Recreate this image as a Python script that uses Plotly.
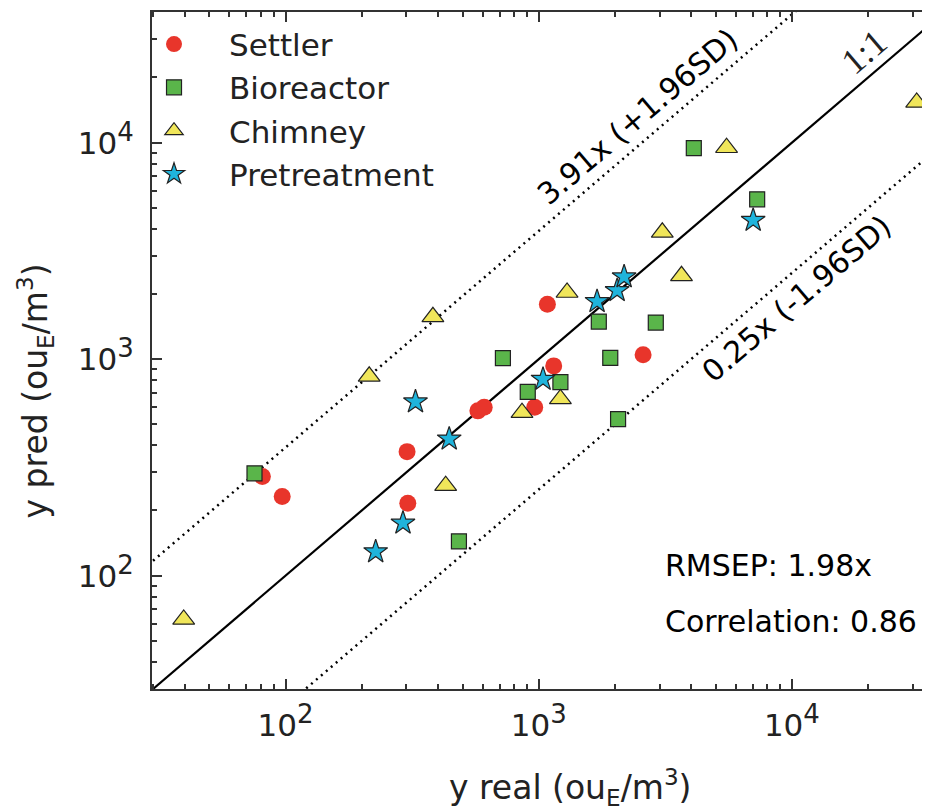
import math
import plotly.graph_objects as go

# ---------------- data ----------------
settler_x = [81, 97, 302, 304, 575, 609, 964, 1146, 1082, 2584]
settler_y = [287, 232, 374, 216, 577, 600, 600, 931, 1795, 1047]

bio_x = [75.4, 484, 722, 905, 1218, 1727, 1917, 2058, 2900, 4098, 7291]
bio_y = [297, 144, 1011, 706, 783, 1492, 1014, 528, 1476, 9442, 5476]

chim_x = [39.6, 214, 382, 429, 859, 1218, 1294, 3077, 3664, 5520, 31110]
chim_y = [62.8, 833, 1569, 260.5, 566, 655, 2032, 3855, 2426, 9474, 15340]

pre_x = [227, 291, 326, 443, 1040, 1700, 2040, 2174, 7031]
pre_y = [129, 175, 635, 428, 808, 1846, 2075, 2401, 4379]

upper_factor = 3.91
lower_factor = 0.25
rmsep = 1.98
correlation = 0.86

line_x = [20, 60000]
major_ticks = [100, 1000, 10000]
major_exp = ["2", "3", "4"]
minor_ticks = [m * d for d in (10, 100, 1000, 10000) for m in range(2, 10)]

FONT = "DejaVu Sans"
INK = "#222222"

major_text = ["10<sup><span style='font-size:26px'>%s</span></sup>" % e for e in major_exp]

fig = go.Figure()

# reference lines
dotted = dict(color="black", width=2.5, dash="2px,4.5px")
fig.add_trace(go.Scatter(x=line_x, y=[v * upper_factor for v in line_x], mode="lines",
                         line=dotted, showlegend=False, hoverinfo="skip"))
fig.add_trace(go.Scatter(x=line_x, y=[v * lower_factor for v in line_x], mode="lines",
                         line=dotted, showlegend=False, hoverinfo="skip"))
fig.add_trace(go.Scatter(x=line_x, y=line_x, mode="lines",
                         line=dict(color="black", width=2.2),
                         showlegend=False, hoverinfo="skip"))

# data series
edge = dict(color="#222", width=1.2)
fig.add_trace(go.Scatter(x=settler_x, y=settler_y, mode="markers", name="Settler",
                         marker=dict(symbol="circle", size=17, color="#e8352b",
                                     line=dict(width=0))))
fig.add_trace(go.Scatter(x=bio_x, y=bio_y, mode="markers", name="Bioreactor",
                         marker=dict(symbol="square", size=15, color="#5ab54a", line=edge)))
fig.add_trace(go.Scatter(x=chim_x, y=chim_y, mode="markers", name="Chimney",
                         marker=dict(symbol="triangle-up", size=19, color="#f0e65a", line=edge)))
fig.add_trace(go.Scatter(x=pre_x, y=pre_y, mode="markers", name="Pretreatment",
                         marker=dict(symbol="star", size=18, color="#1fb4dc", line=edge)))

x_range = [1.4725, 4.5455]
y_range = [1.4765, 4.6035]

axis_common = dict(
    type="log", showgrid=False, zeroline=False,
    showline=True, linecolor="#333", linewidth=2,
    ticks="inside", ticklen=10, tickwidth=1.5, tickcolor="#333",
    tickvals=major_ticks, ticktext=major_text,
    tickfont=dict(family=FONT, size=31, color=INK),
    minor=dict(ticks="inside", ticklen=5, tickwidth=1.5, tickcolor="#333",
               tickvals=minor_ticks, showgrid=False),
)

fig.update_xaxes(range=x_range, mirror="ticks", ticklabelstandoff=8, **axis_common)
fig.update_yaxes(range=y_range, mirror=False, ticklabelstandoff=10, **axis_common)

ann_font = dict(family=FONT, size=30, color="black")
angle = -math.degrees(math.atan((676.7 / 3.127) / (777.5 / 3.073)))

annotations = [
    dict(x=3.3913, y=4.1197, xref="x", yref="y", text=f"{upper_factor}x (+1.96SD)",
         textangle=angle, showarrow=False, font=ann_font),
    dict(x=4.0198, y=3.2787, xref="x", yref="y", text=f"{lower_factor}x (-1.96SD)",
         textangle=angle, showarrow=False, font=ann_font),
    dict(x=4.285, y=4.42, xref="x", yref="y", text="1:1", textangle=angle,
         showarrow=False, font=dict(family="Liberation Serif", size=36, color="#222")),
    dict(x=3.4928, y=2.0448, xref="x", yref="y", text=f"RMSEP: {rmsep}x",
         xanchor="left", yanchor="middle", showarrow=False, font=ann_font),
    dict(x=3.4928, y=1.786, xref="x", yref="y", text=f"Correlation: {correlation}",
         xanchor="left", yanchor="middle", showarrow=False, font=ann_font),
    dict(x=0.537, y=-0.146, xref="paper", yref="paper",
         text="y real (ou<sub>E</sub>/m<sup>3</sup>)", showarrow=False,
         xanchor="center", yanchor="middle", font=dict(family=FONT, size=33, color=INK)),
    dict(x=-0.15, y=0.44, xref="paper", yref="paper",
         text="y pred (ou<sub>E</sub>/m<sup>3</sup>)", showarrow=False, textangle=-90,
         xanchor="center", yanchor="middle", font=dict(family=FONT, size=33, color=INK)),
]

# the page body has an 8px margin; size the figure so the plot area lands where the reference has it
fig.update_layout(
    width=922, height=803,
    margin=dict(l=144, r=0, t=4, b=122),
    paper_bgcolor="white", plot_bgcolor="white",
    font=dict(family=FONT, color=INK),
    annotations=annotations,
    legend=dict(x=-0.0424, y=0.992, xanchor="left", yanchor="top",
                bgcolor="rgba(0,0,0,0)", borderwidth=0,
                font=dict(family=FONT, size=31, color=INK),
                itemwidth=100, tracegroupgap=0),
)

fig.write_html("out.html")
